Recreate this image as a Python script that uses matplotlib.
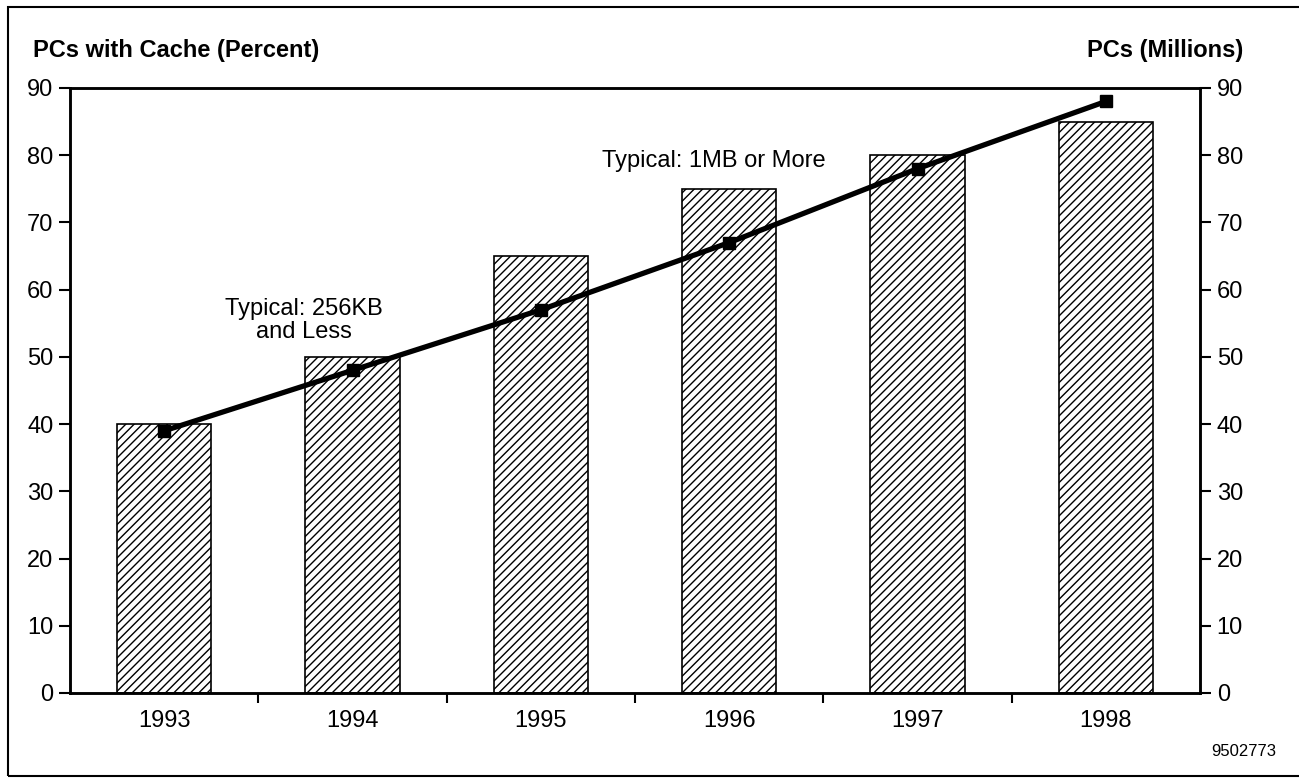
import numpy as np
import matplotlib.pyplot as plt
from matplotlib.patches import Rectangle

plt.rcParams['font.family'] = ['Liberation Sans', 'DejaVu Sans']
plt.rcParams['hatch.linewidth'] = 1.0

years = ['1993', '1994', '1995', '1996', '1997', '1998']
cache_pct = [40, 50, 65, 75, 80, 85]      # bars, left axis
pcs_millions = [39, 48, 57, 67, 78, 88]    # line, right axis
yticks = [0, 10, 20, 30, 40, 50, 60, 70, 80, 90]

fig = plt.figure(figsize=(12.99, 7.78), dpi=100)
ax = fig.add_axes([0.0539, 0.1093, 0.8699, 0.7776])

x = np.arange(len(years))
ax.bar(x, cache_pct, width=0.5, color='white', edgecolor='black',
       hatch='////', linewidth=1.2, zorder=2)
ax.set_xlim(-0.5, len(years) - 0.5)
ax.set_ylim(0, 90)
ax.set_yticks(yticks)
ax.set_xticks(x)
ax.set_xticklabels(years)
ax.set_xticks(x[:-1] + 0.5, minor=True)
ax.tick_params(axis='x', which='major', length=0, pad=12, labelsize=17)
ax.tick_params(axis='x', which='minor', length=7, width=1.5, direction='out')
ax.tick_params(axis='y', length=8, width=1.5, direction='out', pad=4, labelsize=17)
for s in ax.spines.values():
    s.set_linewidth(1.8)

ax2 = ax.twinx()
ax2.plot(x, pcs_millions, color='black', linewidth=3.8, marker='s',
         markersize=9, zorder=3)
ax2.set_ylim(0, 90)
ax2.set_yticks(yticks)
ax2.tick_params(axis='y', length=8, width=1.5, direction='out', pad=4, labelsize=17)
for s in ax2.spines.values():
    s.set_linewidth(1.8)

ax.text(0.74, 52, 'Typical: 256KB\nand Less', ha='center', va='bottom',
        fontsize=17, linespacing=1.1)
ax.text(2.92, 77.5, 'Typical: 1MB or More', ha='center', va='bottom', fontsize=17)

fig.text(33 / 1299, 1 - 50 / 778, 'PCs with Cache (Percent)', ha='left', va='center',
         fontsize=17, fontweight='bold')
fig.text(1243 / 1299, 1 - 50 / 778, 'PCs (Millions)', ha='right', va='center',
         fontsize=17, fontweight='bold')
fig.text(1276 / 1299, 1 - 752 / 778, '9502773', ha='right', va='center',
         fontsize=12)

# page frame
fig.patches.append(Rectangle((8 / 1299, 2 / 778), 1.05, 1 - 9 / 778,
                             transform=fig.transFigure, fill=False,
                             edgecolor='black', linewidth=1.5))

fig.savefig('out.png', dpi=100)
